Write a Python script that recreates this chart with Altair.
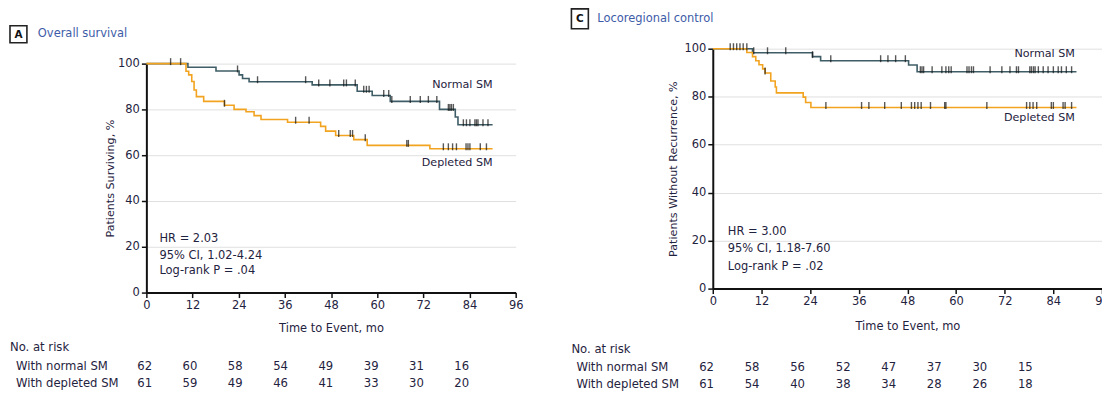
import altair as alt
import pandas as pd

FONT = "DejaVu Sans"
TXT = "#1f2340"
TITLE_C = "#3d5ca8"
NORMAL_C = "#3f5d66"
DEPL_C = "#f2a31f"
GRID = "#e0e0e0"

# ---------------- Panel A: Overall survival ----------------
a_norm_t = [0, 10.8, 18.1, 24.1, 25.0, 26.7, 43.1, 54.8, 58.7, 63.4, 76.2, 80.3, 81.0, 90.0]
a_norm_s = [100, 98.4, 96.8, 95.1, 93.5, 92.1, 90.7, 87.9, 86.1, 83.5, 80.0, 76.7, 73.3, 73.3]
a_depl_t = [0, 10.3, 11.0, 11.8, 12.4, 13.0, 14.9, 20.3, 22.8, 25.9, 28.0, 29.8, 36.7, 45.3,
            46.6, 49.2, 53.9, 57.4, 73.7, 90.0]
a_depl_s = [100, 96.7, 95.1, 92.2, 88.5, 85.6, 83.5, 81.8, 80.0, 79.0, 77.3, 75.6, 74.4, 72.6,
            70.5, 68.6, 66.8, 64.3, 62.8, 62.8]
a_norm_cens = [6.3, 8.9, 23.7, 28.9, 41.4, 44.8, 47.7, 51.3, 52.0, 54.3, 56.5, 57.2, 57.9, 61.7,
               63.0, 63.8, 68.6, 71.2, 73.3, 75.5, 78.5, 78.9, 79.3, 79.8, 82.4, 83.2, 84.1,
               85.4, 85.8, 86.2, 87.5, 88.8]
a_depl_cens = [20.3, 38.8, 42.3, 50.0, 53.0, 53.6, 56.9, 67.7, 68.1, 77.2, 78.5, 79.6, 80.6,
               83.1, 83.6, 84.1, 86.8, 88.4]
a_risk_months = [0, 12, 24, 36, 48, 60, 72, 84]
a_risk_norm = [62, 60, 58, 54, 49, 39, 31, 16]
a_risk_depl = [61, 59, 49, 46, 41, 33, 30, 20]
a_stats = ["HR = 2.03", "95% CI, 1.02-4.24", "Log-rank P = .04"]

# ---------------- Panel C: Locoregional control ----------------
c_norm_t = [0, 9.8, 24.6, 26.6, 48.3, 50.4, 89.7]
c_norm_s = [100, 98.3, 96.7, 95.0, 93.2, 90.4, 90.4]
c_depl_t = [0, 8.4, 9.8, 10.6, 11.4, 12.3, 12.9, 14.3, 15.4, 15.7, 22.3, 22.9, 24.2, 89.7]
c_depl_s = [100, 98.4, 96.7, 95.0, 93.3, 91.6, 89.9, 86.5, 84.0, 81.6, 79.8, 77.6, 75.5, 75.5]
c_norm_cens = [4.3, 5.1, 5.9, 6.7, 7.5, 8.4, 10.1, 13.5, 18.0, 24.6, 29.1, 41.4, 43.2, 45.1,
               47.5, 51.2, 51.6, 52.0, 54.1, 56.5, 57.5, 58.2, 58.8, 62.7, 63.2, 63.8, 64.3,
               68.4, 71.3, 73.3, 74.9, 75.4, 78.2, 78.6, 79.1, 79.5, 80.3, 81.5, 82.7, 84.0,
               85.2, 86.0, 87.2, 88.5]
c_depl_cens = [12.9, 27.9, 36.7, 38.5, 42.4, 46.5, 49.0, 49.8, 50.6, 51.4, 53.7, 57.2, 57.5,
               67.6, 77.4, 78.2, 79.0, 79.9, 83.5, 84.0, 86.4, 86.9, 88.5]
c_risk_months = [0, 12, 24, 36, 48, 60, 72, 84]
c_risk_norm = [62, 58, 56, 52, 47, 37, 30, 15]
c_risk_depl = [61, 54, 40, 38, 34, 28, 26, 18]
c_stats = ["HR = 3.00", "95% CI, 1.18-7.60", "Log-rank P = .02"]

GROUPS = ["Normal SM", "Depleted SM"]


def step_value(ts, ss, t):
    v = ss[0]
    for ti, si in zip(ts, ss):
        if ti <= t:
            v = si
    return v


def txt(df, **kw):
    base = dict(font=FONT, color=TXT, fontSize=11.7)
    base.update(kw)
    return alt.Chart(df).mark_text(**base)


def panel(norm_t, norm_s, depl_t, depl_s, norm_cens, depl_cens, risk_m, risk_n, risk_d,
          stats, ytitle, letter, title, W, H, g):
    xs = alt.Scale(domain=[0, 96], nice=False, zero=False)
    ys = alt.Scale(domain=[0, 100], nice=False, range=[H, g["ytop"]])
    curves = pd.DataFrame(
        {"time": norm_t + depl_t, "surv": norm_s + depl_s,
         "group": [GROUPS[0]] * len(norm_t) + [GROUPS[1]] * len(depl_t)})
    cens = pd.DataFrame(
        {"time": norm_cens + depl_cens,
         "surv": [step_value(norm_t, norm_s, t) for t in norm_cens]
         + [step_value(depl_t, depl_s, t) for t in depl_cens]})

    xaxis = alt.Axis(values=list(range(0, 97, 12)), title="Time to Event, mo", grid=False,
                     domainColor="#111", domainWidth=2, tickColor="#111", tickWidth=1.5,
                     tickSize=5, labelFont=FONT, labelFontSize=11.5, labelColor=TXT,
                     labelPadding=2, labelFlush=False, labelOverlap=False,
                     titleFont=FONT, titleFontSize=11.5,
                     titleFontWeight="normal", titleColor=TXT, titleY=g["xtitle_y"],
                     titleBaseline="middle")
    yaxis = alt.Axis(values=list(range(0, 101, 20)), title=ytitle, grid=True, gridColor=GRID,
                     gridWidth=1, domainColor="#111", domainWidth=2, tickColor="#111",
                     tickWidth=1.5, tickSize=5, labelFont=FONT, labelFontSize=11.5,
                     labelColor=TXT, labelPadding=2, labelFlush=False, labelOverlap=False,
                     titleFont=FONT, titleFontSize=11.2,
                     titleFontWeight="normal", titleColor=TXT, titleX=g["ytitle_x"],
                     titleY=(H + g["ytop"]) / 2, titleAngle=-90, titleBaseline="middle",
                     titleAlign="center")

    line = alt.Chart(curves).mark_line(interpolate="step-after", strokeWidth=1.6).encode(
        x=alt.X("time:Q", scale=xs, axis=xaxis),
        y=alt.Y("surv:Q", scale=ys, axis=yaxis),
        color=alt.Color("group:N", scale=alt.Scale(domain=GROUPS, range=[NORMAL_C, DEPL_C]),
                        legend=None),
        detail="group:N",
    )
    ticks = alt.Chart(cens).mark_tick(orient="vertical", size=7, thickness=1.4, color="#111",
                                      yOffset=-2).encode(
        x=alt.X("time:Q", scale=xs), y=alt.Y("surv:Q", scale=ys))

    lab = pd.DataFrame({"time": [g["lab_x"], g["lab_x"]], "surv": g["lab_y"], "t": GROUPS})
    labels = txt(lab, align="right", baseline="middle", fontSize=11.2).encode(
        x=alt.X("time:Q", scale=xs), y=alt.Y("surv:Q", scale=ys), text="t:N")

    st = pd.DataFrame({"time": [g["stat_x"]] * 3, "surv": g["stat_y"], "t": stats})
    stat_txt = txt(st, align="left", baseline="middle", fontSize=11.5).encode(
        x=alt.X("time:Q", scale=xs), y=alt.Y("surv:Q", scale=ys), text="t:N")

    # header: letter box + title
    bx = g["box"]
    box = alt.Chart(pd.DataFrame({"k": [0]})).mark_rect(
        fill="white", stroke="#222", strokeWidth=1.6).encode(
        x=alt.value(bx[0]), x2=alt.value(bx[1]), y=alt.value(bx[2]), y2=alt.value(bx[3]))
    letter_t = txt(pd.DataFrame({"t": [letter]}), align="center", baseline="middle",
                   fontWeight="bold", fontSize=10.5, color="#111").encode(
        text="t:N", x=alt.value((bx[0] + bx[1]) / 2), y=alt.value((bx[2] + bx[3]) / 2 + 0.5))
    title_t = txt(pd.DataFrame({"t": [title]}), align="left", baseline="middle",
                  fontSize=11.5, color=TITLE_C).encode(
        text="t:N", x=alt.value(g["title_x"]), y=alt.value((bx[2] + bx[3]) / 2))

    # at-risk table
    tab_head = txt(pd.DataFrame({"t": ["No. at risk"]}), align="left",
                   baseline="middle").encode(text="t:N", x=alt.value(g["head_x"]),
                                             y=alt.value(g["rows_y"][0]))
    row_lab = pd.DataFrame({"t": ["With normal SM", "With depleted SM"], "r": [0, 1]})
    rows = alt.layer(
        txt(row_lab[row_lab.r == 0], align="left", baseline="middle").encode(
            text="t:N", x=alt.value(g["row_x"]), y=alt.value(g["rows_y"][1])),
        txt(row_lab[row_lab.r == 1], align="left", baseline="middle").encode(
            text="t:N", x=alt.value(g["row_x"]), y=alt.value(g["rows_y"][2])),
    )
    risk = pd.DataFrame({"month": risk_m * 2, "n": risk_n + risk_d,
                         "row": [1] * len(risk_m) + [2] * len(risk_m)})
    tscale = alt.Scale(domain=g["tab_dom"], nice=False, zero=False)
    nums = alt.layer(
        txt(risk[risk.row == 1], align="center", baseline="middle").encode(
            x=alt.X("month:Q", scale=tscale, axis=None), text="n:Q",
            y=alt.value(g["rows_y"][1])),
        txt(risk[risk.row == 2], align="center", baseline="middle").encode(
            x=alt.X("month:Q", scale=tscale, axis=None), text="n:Q",
            y=alt.value(g["rows_y"][2])),
    )

    layers = [line, ticks, labels, stat_txt, box, letter_t, title_t, tab_head, rows]
    if g.get("rule") is not None:
        r = g["rule"]
        rule = alt.Chart(pd.DataFrame({"k": [0]})).mark_rule(
            color="#555", strokeWidth=2.2).encode(
            x=alt.value(r[0]), x2=alt.value(r[1]), y=alt.value(r[2]))
        layers.append(rule)
    main = alt.layer(*layers)
    return alt.layer(main, nums).resolve_scale(x="independent").properties(width=W, height=H)


gA = dict(ytop=15, xtitle_y=36, ytitle_x=-36, lab_x=90.0, lab_y=[90.7, 56.6], stat_x=3.4,
          stat_y=[23.3, 16.1, 9.6], box=[-137, -120, -23, -6], title_x=-109,
          head_x=-137, row_x=-131, rows_y=[300, 319, 336], tab_dom=[0.45, 98.3],
          rule=[-137, 375, -42])
gC = dict(ytop=0, xtitle_y=38, ytitle_x=-39, lab_x=89.3, lab_y=[97.9, 70.9], stat_x=3.7,
          stat_y=[23.4, 16.3, 8.9], box=[-142, -125, -40, -20], title_x=-116,
          head_x=-142, row_x=-137, rows_y=[302, 320, 337], tab_dom=[1.65, 104.2],
          rule=None)

pA = panel(a_norm_t, a_norm_s, a_depl_t, a_depl_s, a_norm_cens, a_depl_cens, a_risk_months,
           a_risk_norm, a_risk_depl, a_stats, "Patients Surviving, %", "A", "Overall survival",
           371, 245, gA)
pC = panel(c_norm_t, c_norm_s, c_depl_t, c_depl_s, c_norm_cens, c_depl_cens, c_risk_months,
           c_risk_norm, c_risk_depl, c_stats, "Patients Without Recurrence, %", "C",
           "Locoregional control", 391, 241, gC)

chart = alt.hconcat(pA, pC, spacing=47).properties(
    padding={"left": 0, "top": -4, "right": -8, "bottom": 0}, background="white"
).configure_view(stroke=None)

chart.save("out.html", embed_options={"renderer": "svg", "actions": False})
